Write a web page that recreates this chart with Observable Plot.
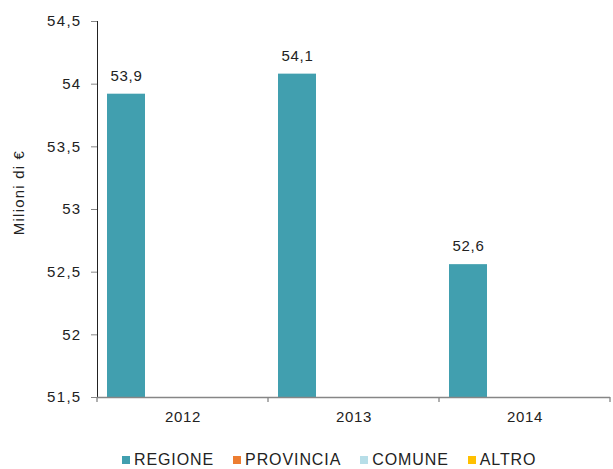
<!DOCTYPE html>
<html>
<head>
<meta charset="utf-8">
<script src="https://cdn.jsdelivr.net/npm/d3@7"></script>
<script src="https://cdn.jsdelivr.net/npm/@observablehq/plot@0.6"></script>
<style>
  body { margin: 0; background: #fff; font-family: "Liberation Sans", Arial, sans-serif; }
  #legend { display: flex; align-items: center; padding-left: 122px; margin-top: 19px; font-size: 16px; letter-spacing: 0.9px; color: #222; }
  #legend .item { display: flex; align-items: center; margin-right: 19px; }
  #legend .sw { width: 8px; height: 8px; margin-right: 4px; }
  svg text { letter-spacing: 0.7px; }
</style>
</head>
<body>
<div id="chart"></div>
<div id="legend"></div>
<script>
const years = ["2012", "2013", "2014"];
const series = ["REGIONE", "PROVINCIA", "COMUNE", "ALTRO"];
const colors = ["#419FAF", "#ED7D31", "#B7DEE8", "#FFC000"];
const regione = [53.92, 54.08, 52.56];
const provincia = [0, 0, 0];
const comune = [0, 0, 0];
const altro = [0, 0, 0];
const yTicks = [51.5, 52, 52.5, 53, 53.5, 54, 54.5];
const yLabel = "Milioni di €";

const seriesValues = [regione, provincia, comune, altro];
const data = [];
years.forEach((yr, i) => series.forEach((s, j) => data.push({year: yr, series: s, value: seriesValues[j][i]})));

const fmt = d => String(d).replace(".", ",");
const fmt1 = d => d.toFixed(1).replace(".", ",");

const plot = Plot.plot({
  width: 613,
  height: 432,
  marginLeft: 97,
  marginRight: 3,
  marginTop: 21,
  marginBottom: 35,
  style: {fontFamily: "Liberation Sans, Arial, sans-serif", fontSize: "15px", color: "#222", background: "#fff"},
  fx: {domain: years, padding: 0, label: null, tickSize: 0, tickPadding: 14, axis: "bottom"},
  x: {domain: series, paddingInner: 0, paddingOuter: 0.22, axis: null},
  y: {domain: [51.5, 54.5], ticks: yTicks, tickFormat: fmt, tickSize: 6, tickPadding: 10,
      label: yLabel, labelAnchor: "center", labelOffset: 84, labelArrow: "none", line: true},
  color: {domain: series, range: colors},
  marks: [
    Plot.barY(data, {fx: "year", x: "series", y: "value", fill: "series", clip: true}),
    Plot.ruleY([51.5], {stroke: "#868686", strokeWidth: 1.3}),
    Plot.text(data.filter(d => d.series === "REGIONE"), {fx: "year", x: "series", y: "value", text: d => fmt1(d.value), dy: -18, fill: "#222", fontSize: 15})
  ]
});

document.getElementById("chart").appendChild(plot);

const svg = d3.select(plot);
svg.selectAll("[aria-label='y-axis tick'] path, [aria-label='y-axis tick'] line").attr("stroke", "#868686");
svg.selectAll("[aria-label='y-axis tick label'] text").style("letter-spacing", "1.3px");

// shift the y-axis title slightly up and widen its spacing like the reference
const lab = svg.select("[aria-label='y-axis label']");
lab.attr("transform", "translate(0,-17) " + (lab.attr("transform") || ""));
lab.selectAll("text").style("letter-spacing", "1.2px");

// boundary ticks on category axis
const fx = plot.scale("fx");
const y = plot.scale("y");
const y0 = y.apply(51.5);
const bounds = years.map(v => fx.apply(v)).concat([fx.apply(years[years.length - 1]) + fx.bandwidth]);
svg.append("g").selectAll("line").data(bounds).join("line")
  .attr("x1", d => d).attr("x2", d => d)
  .attr("y1", y0).attr("y2", y0 + 5)
  .attr("stroke", "#868686").attr("stroke-width", 1.3);

// legend
const leg = d3.select("#legend");
series.forEach((s, i) => {
  const it = leg.append("div").attr("class", "item");
  it.append("div").attr("class", "sw").style("background", colors[i]);
  it.append("span").text(s);
});
</script>
</body>
</html>
